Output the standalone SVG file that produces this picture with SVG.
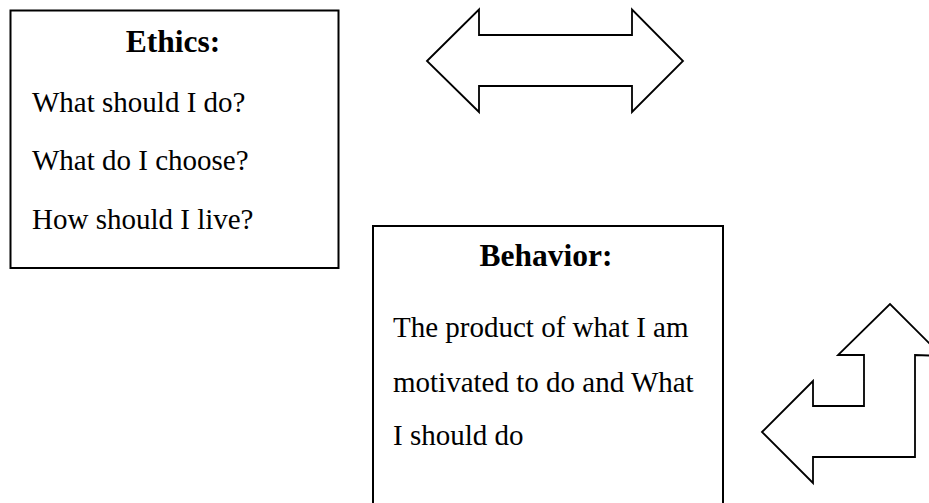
<svg xmlns="http://www.w3.org/2000/svg" width="929" height="503" viewBox="0 0 929 503">
<style>
.box{fill:#fff;stroke:#000;stroke-width:2}
.arrow{fill:#fff;stroke:#000;stroke-width:1.8;stroke-linejoin:miter}
.h{font-family:"Liberation Serif","Times New Roman",serif;font-weight:bold;font-size:31.5px;fill:#000;text-anchor:middle}
.t{font-family:"Liberation Serif","Times New Roman",serif;font-size:29px;fill:#000}
</style>
<rect width="929" height="503" fill="#fff"/>
<g id="ethics">
<rect class="box" x="10.5" y="10.5" width="328" height="257.5" stroke-width="2.3"/>
<text class="h" x="173" y="52">Ethics:</text>
<text class="t" x="32" y="112">What should I do?</text>
<text class="t" x="32" y="170">What do I choose?</text>
<text class="t" x="32" y="229">How should I live?</text>
</g>
<g id="behavior">
<rect class="box" x="373" y="226" width="350" height="300" stroke-width="1.6"/>
<text class="h" x="546" y="266">Behavior:</text>
<text class="t" x="393" y="337">The product of what I am</text>
<text class="t" x="393" y="392">motivated to do and What</text>
<text class="t" x="393" y="445">I should do</text>
</g>
<g id="connectors">
<polygon id="double-arrow" class="arrow" points="427,61 479,9.5 479,35 632,35 632,9.5 683,61 632,112 632,86 479,86 479,112"/>
<polygon id="bent-arrow" class="arrow" points="762,432 813,381 813,406 864,406 864,355 838,355 890,304 942,356 915,355 915,457 813,457 813,483"/>
</g>
</svg>
